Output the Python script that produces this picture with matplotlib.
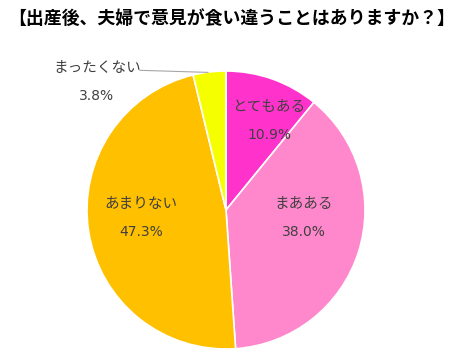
import numpy as np
import matplotlib
matplotlib.use("Agg")
import matplotlib.pyplot as plt

plt.rcParams['font.family'] = ['Noto Sans CJK JP', 'DejaVu Sans']

# data
labels = ['とてもある', 'まあある', 'あまりない', 'まったくない']
values = [10.9, 38.0, 47.3, 3.8]
colors = ['#FF33CC', '#FF88CC', '#FFC000', '#F5FF00']
# label centres in pie-radius units
label_pos = [(0.31, 0.64), (0.56, -0.06), (-0.61, -0.06), (-0.93, 0.92)]

W, H = 462, 358
fig = plt.figure(figsize=(W / 100, H / 100), dpi=100)
fig.patch.set_facecolor('white')

cx, cy, r = 226, 210, 139
ax = fig.add_axes([(cx - r) / W, (H - cy - r) / H, 2 * r / W, 2 * r / H])
ax.pie(values, colors=colors, startangle=90, counterclock=False,
       wedgeprops=dict(edgecolor='white', linewidth=1.2))
ax.set_xlim(-1, 1)
ax.set_ylim(-1, 1)
ax.set_aspect('equal')
ax.axis('off')

for lab, val, (x, y) in zip(labels, values, label_pos):
    ax.text(x, y + 0.1, lab, ha='center', va='center', fontsize=10.5,
            color='#404040', clip_on=False)
    ax.text(x, y - 0.1, f'{val:.1f}%', ha='center', va='center', fontsize=10,
            color='#404040', family=['DejaVu Sans'], clip_on=False)

# leader line for the small slice
ax.plot([-0.62, -0.13], [1.005, 0.99], color='#A6A6A6', lw=0.8, clip_on=False)

fig.text(8 / W, 1 - 19 / H, '【出産後、夫婦で意見が食い違うことはありますか？】',
         ha='left', va='center', fontsize=12.9, fontweight='bold', color='black')

fig.savefig('out.png', dpi=100)
